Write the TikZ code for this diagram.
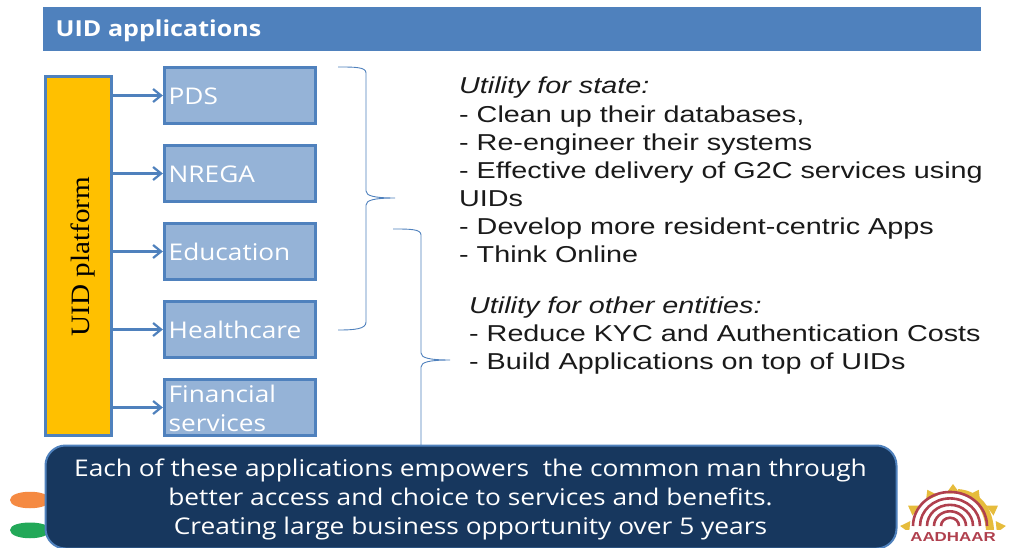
\documentclass[tikz,border=0pt]{standalone}
\usepackage{fontspec}
\usetikzlibrary{arrows.meta}
\setmainfont{Liberation Sans}[FakeStretch=1.25]
\newfontfamily\boxfont{Open Sans}[FakeStretch=1.14]
\newfontfamily\footfont{Open Sans}[FakeStretch=1.145]
\newfontfamily\serifont{Liberation Serif}[FakeStretch=1.1]
\newfontfamily\aadfont{Liberation Sans}[FakeStretch=1.3]
\definecolor{hdr}{HTML}{4F81BD}
\definecolor{appbox}{HTML}{95B3D7}
\definecolor{navy}{HTML}{17375E}
\definecolor{gold}{HTML}{FFC000}
\definecolor{bodytxt}{HTML}{1A1A1A}
\definecolor{sunray}{HTML}{E6BC3C}
\definecolor{thumb}{HTML}{B0404E}
\definecolor{saffron}{HTML}{F58A42}
\definecolor{leaf}{HTML}{22A858}
\tikzset{
  x=1pt,y=-1pt,
  appnode/.style={draw=hdr,fill=appbox,line width=2.8pt,minimum width=151.5pt,minimum height=56.5pt,inner sep=0pt},
  apptext/.style={text=white,anchor=west,inner sep=0pt,font=\boxfont\fontsize{23}{29}\selectfont},
  feed/.style={draw=hdr,line width=2.4pt,-{Straight Barb[length=8pt,width=13pt,line width=2.2pt]}},
  bracket/.style={draw=hdr,line width=0.9pt},
  bodyline/.style={anchor=base west,inner sep=0pt,text=bodytxt,font=\fontsize{23}{26}\selectfont},
  bodyit/.style={bodyline,font=\fontsize{23}{26}\selectfont\itshape},
  foot/.style={anchor=base,inner sep=0pt,text=white,font=\footfont\fontsize{23}{26}\selectfont}
}
\begin{document}
\begin{tikzpicture}
\useasboundingbox (0,0) rectangle (1011,548);
\fill[white] (0,0) rectangle (1011,548);
% header
\node[fill=hdr,minimum width=938pt,minimum height=44pt,inner sep=0pt,anchor=north west] (head) at (43,7) {};
\node[anchor=west,inner sep=0pt,text=white,font=\boxfont\bfseries\fontsize{22}{24}\selectfont] (headtxt) at (55.5,31) {UID applications};
% platform
\node[draw=hdr,fill=gold,line width=2.8pt,minimum width=66.5pt,minimum height=359.5pt,inner sep=0pt] (uid) at (78.5,256) {};
\node[rotate=90,inner sep=0pt,text=black,font=\serifont\fontsize{26.5}{28}\selectfont] (uidtxt) at (82.5,256.5) {UID platform};
% apps
\node[appnode] (pds) at (240,95.5) {};
\node[appnode] (nrega) at (240,173.5) {};
\node[appnode] (edu) at (240,251.5) {};
\node[appnode] (health) at (240,329.5) {};
\node[appnode] (fin) at (240,407.5) {};
\node[apptext] (t1) at (168.5,96) {PDS};
\node[apptext] (t2) at (168.5,174) {NREGA};
\node[apptext] (t3) at (168.5,252) {Education};
\node[apptext] (t4) at (168.5,330) {Healthcare};
\node[apptext] (t5) at (168.5,394) {Financial};
\node[apptext] (t6) at (168.5,423) {services};
% arrows
\foreach \n in {pds,nrega,edu,health,fin}
  \draw[feed] (uid.east |- \n.west) -- (\n.west);
% braces
\draw[bracket] (338,67) .. controls (355,67) and (366,67) .. (366,73) -- (366,191)
   .. controls (366,196) and (375,198) .. (395,198)
   .. controls (375,198) and (366,200) .. (366,205) -- (366,322)
   .. controls (366,329) and (355,330) .. (338,330);
\draw[bracket] (393,229) .. controls (410,229) and (421,229) .. (421,235) -- (421,353)
   .. controls (421,358) and (430,360) .. (450,360)
   .. controls (430,360) and (421,362) .. (421,367) -- (421,446);
% body text
\node[bodyit] (a0) at (459,94) {Utility for state:};
\node[bodyline] (a1) at (459,122.5) {- Clean up their databases,};
\node[bodyline] (a2) at (459,150.5) {- Re-engineer their systems};
\node[bodyline] (a3) at (459,178.5) {- Effective delivery of G2C services using};
\node[bodyline] (a4) at (459,206.5) {UIDs};
\node[bodyline] (a5) at (459,234.5) {- Develop more resident-centric Apps};
\node[bodyline] (a6) at (459,262.5) {- Think Online};
\node[bodyit] (b0) at (469,313) {Utility for other entities:};
\node[bodyline] (b1) at (469,341) {- Reduce KYC and Authentication Costs};
\node[bodyline] (b2) at (469,369) {- Build Applications on top of UIDs};
% flag logo
\fill[saffron] (10,500) .. controls (10,489) and (50,489) .. (50,500) .. controls (50,511) and (10,511) .. (10,500) -- cycle;
\fill[leaf] (10,530) .. controls (10,520) and (50,520) .. (50,530) .. controls (50,541) and (10,541) .. (10,530) -- cycle;
% aadhaar logo
\foreach \a in {5,32,61,90,119,148,175}
  \fill[sunray] ({953+53*cos(\a)},{530-46*sin(\a)}) -- ({953+44*cos(\a+9)},{530-37*sin(\a+9)}) -- ({953+44*cos(\a-9)},{530-37*sin(\a-9)}) -- cycle;
\fill[sunray] (958,489) .. controls (982,491) and (993,510) .. (994,530) -- (986,530) .. controls (984,510) and (975,496) .. (958,492) -- cycle;
\foreach \r in {37,30,23,16,9}
  \draw[thumb,line width=2.6pt] ({950-\r},526) arc[start angle=180,end angle=0,x radius=\r,y radius=-\r*0.92];
\fill[white] (905,530) rectangle (1001,545);
\node[inner sep=0pt,text=thumb,font=\aadfont\bfseries\fontsize{13}{13}\selectfont] (aad) at (953,537.5) {AADHAAR};
% footer box
\node[draw=hdr,fill=navy,rounded corners=20pt,line width=2pt,minimum width=851pt,minimum height=103pt,inner sep=0pt,anchor=north west] (footbox) at (44.5,444.5) {};
\node[foot] (f1) at (470.5,476.5) {Each of these applications empowers\ \ the common man through};
\node[foot] (f2) at (470.5,505.5) {better access and choice to services and benefits.};
\node[foot] (f3) at (470.5,534.5) {Creating large business opportunity over 5 years};
\end{tikzpicture}
\end{document}
